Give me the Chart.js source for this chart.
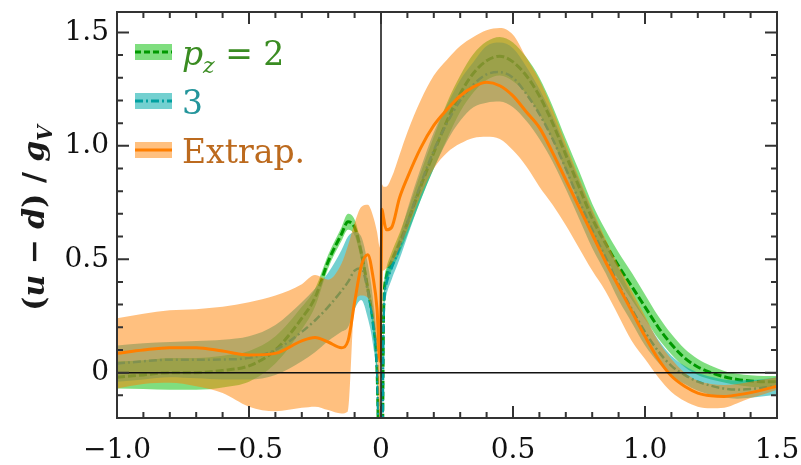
<!DOCTYPE html>
<html lang="en">
<head>
<meta charset="UTF-8">
<title>(u-d)/gV</title>
<script src="https://cdn.jsdelivr.net/npm/chart.js"></script>
<style>
  html, body { margin: 0; padding: 0; background: #fff; }
</style>
</head>
<body>
<canvas id="pdfChart" width="801" height="465"></canvas>
<script>
// x grid (x = 0 itself is left out, the curves jump there)
const xs = [-1.0, -0.9, -0.8, -0.7, -0.6, -0.5, -0.4, -0.3, -0.25, -0.2, -0.15, -0.125, -0.1, -0.075, -0.05, -0.03, -0.015, -0.004,
            0.004, 0.01, 0.02, 0.04, 0.07, 0.1, 0.15, 0.2, 0.25, 0.3, 0.35, 0.4, 0.45, 0.5, 0.55, 0.6, 0.65, 0.7, 0.75, 0.8,
            0.85, 0.9, 0.95, 1.0, 1.05, 1.1, 1.15, 1.2, 1.25, 1.3, 1.35, 1.4, 1.45, 1.5];

// p_z = 2
const p2Mid = [-0.02, -0.01, 0.0, 0.0, 0.01, 0.03, 0.1, 0.24, 0.33, 0.49, 0.61, 0.665, 0.64, 0.53, 0.37, 0.22, 0.01, -0.5,
               -0.5, 0.28, 0.42, 0.49, 0.57, 0.66, 0.82, 0.97, 1.11, 1.23, 1.32, 1.375, 1.395, 1.37, 1.31, 1.22, 1.1, 0.96, 0.82, 0.68,
               0.57, 0.47, 0.38, 0.29, 0.2, 0.125, 0.065, 0.025, 0.0, -0.018, -0.03, -0.037, -0.04, -0.04];
const p2Hi = [0.05, 0.055, 0.065, 0.065, 0.075, 0.095, 0.16, 0.29, 0.37, 0.52, 0.64, 0.70, 0.675, 0.565, 0.405, 0.255, 0.045, -0.465,
              -0.46, 0.32, 0.46, 0.53, 0.615, 0.71, 0.88, 1.04, 1.19, 1.31, 1.405, 1.46, 1.48, 1.455, 1.39, 1.30, 1.175, 1.03, 0.89, 0.745,
              0.63, 0.53, 0.44, 0.345, 0.25, 0.17, 0.105, 0.06, 0.03, 0.007, -0.005, -0.012, -0.015, -0.015];
const p2Lo = [-0.07, -0.072, -0.075, -0.075, -0.065, -0.04, 0.04, 0.19, 0.29, 0.46, 0.58, 0.63, 0.605, 0.495, 0.335, 0.185, -0.025, -0.535,
              -0.54, 0.24, 0.38, 0.45, 0.525, 0.61, 0.76, 0.90, 1.03, 1.15, 1.235, 1.29, 1.31, 1.285, 1.23, 1.14, 1.025, 0.89, 0.75, 0.615,
              0.51, 0.41, 0.32, 0.235, 0.15, 0.08, 0.025, -0.01, -0.03, -0.043, -0.055, -0.062, -0.065, -0.065];

// p_z = 3
const p3Mid = [0.04, 0.05, 0.057, 0.057, 0.058, 0.065, 0.1, 0.18, 0.23, 0.29, 0.36, 0.4, 0.45, 0.46, 0.36, 0.22, 0.02, -0.5,
               -0.5, 0.25, 0.39, 0.46, 0.55, 0.66, 0.83, 0.98, 1.1, 1.2, 1.27, 1.315, 1.325, 1.3, 1.23, 1.14, 1.03, 0.9, 0.76, 0.63,
               0.51, 0.39, 0.28, 0.18, 0.095, 0.03, -0.01, -0.04, -0.058, -0.07, -0.075, -0.072, -0.066, -0.058];
const p3Hi = [0.12, 0.13, 0.135, 0.14, 0.145, 0.16, 0.21, 0.31, 0.37, 0.44, 0.54, 0.6, 0.62, 0.6, 0.48, 0.32, 0.1, -0.45,
              -0.4, 0.3, 0.44, 0.51, 0.6, 0.72, 0.9, 1.06, 1.18, 1.29, 1.37, 1.44, 1.455, 1.43, 1.35, 1.25, 1.13, 0.99, 0.85, 0.71,
              0.58, 0.46, 0.34, 0.24, 0.145, 0.075, 0.03, 0.0, -0.018, -0.03, -0.035, -0.033, -0.028, -0.02];
const p3Lo = [-0.04, -0.03, -0.02, -0.025, -0.03, -0.03, -0.01, 0.05, 0.09, 0.14, 0.18, 0.2, 0.28, 0.32, 0.24, 0.12, -0.06, -0.55,
              -0.6, 0.2, 0.34, 0.41, 0.5, 0.6, 0.76, 0.9, 1.02, 1.11, 1.17, 1.19, 1.195, 1.17, 1.11, 1.03, 0.93, 0.81, 0.68, 0.55,
              0.44, 0.32, 0.22, 0.12, 0.045, -0.015, -0.05, -0.08, -0.098, -0.11, -0.115, -0.111, -0.104, -0.096];

// extrapolated
const exMid = [0.085, 0.10, 0.11, 0.11, 0.095, 0.078, 0.085, 0.14, 0.155, 0.135, 0.11, 0.14, 0.31, 0.47, 0.52, 0.42, 0.28, 0.05,
               0.72, 0.68, 0.63, 0.64, 0.77, 0.86, 0.99, 1.09, 1.16, 1.22, 1.26, 1.28, 1.265, 1.22, 1.15, 1.08, 0.97, 0.85, 0.73, 0.61,
               0.49, 0.38, 0.27, 0.16, 0.06, -0.015, -0.06, -0.09, -0.102, -0.105, -0.098, -0.088, -0.075, -0.06];
const exHi = [0.24, 0.26, 0.275, 0.28, 0.29, 0.31, 0.34, 0.39, 0.43, 0.41, 0.48, 0.56, 0.66, 0.73, 0.74, 0.69, 0.62, 0.55,
              0.83, 0.82, 0.82, 0.86, 0.96, 1.06, 1.2, 1.31, 1.38, 1.44, 1.48, 1.51, 1.52, 1.49, 1.39, 1.29, 1.16, 1.01, 0.86, 0.72,
              0.59, 0.47, 0.36, 0.25, 0.14, 0.06, 0.0, -0.035, -0.05, -0.055, -0.05, -0.04, -0.03, -0.02];
const exLo = [-0.07, -0.05, -0.045, -0.06, -0.09, -0.15, -0.17, -0.155, -0.15, -0.165, -0.18, -0.17, 0.3, 0.34, 0.33, 0.25, 0.08, -0.25,
              0.45, 0.45, 0.46, 0.48, 0.55, 0.63, 0.78, 0.9, 0.97, 1.01, 1.035, 1.04, 1.03, 0.98, 0.91, 0.82, 0.74, 0.65, 0.55, 0.45,
              0.36, 0.25, 0.14, 0.06, -0.02, -0.085, -0.125, -0.15, -0.157, -0.155, -0.135, -0.112, -0.095, -0.075];

const xMajor = [-1.0, -0.5, 0, 0.5, 1.0, 1.5];
const yMajor = [0, 0.5, 1.0, 1.5];

const serif = 'DejaVu Serif';

// colours
const green = { band: 'rgba(0,190,0,0.5)', line: '#009900', text: '#3a8c22' };
const teal = { band: 'rgba(0,170,170,0.55)', line: '#00a0a0', text: '#23959b' };
const orange = { band: 'rgba(255,130,0,0.5)', line: '#ff7f00', text: '#bc6a1e' };

function pts(arr) {
    return xs.map((x, i) => ({ x: x, y: arr[i] }));
}

function bandSets(lo, hi, color, order) {
    const common = { pointRadius: 0, borderWidth: 0, borderColor: 'transparent', cubicInterpolationMode: 'monotone', order: order };
    return [
        Object.assign({ data: pts(lo), fill: false }, common),
        Object.assign({ data: pts(hi), fill: '-1', backgroundColor: color }, common)
    ];
}

function lineSet(arr, color, width, dash, order) {
    return { data: pts(arr), borderColor: color, borderWidth: width, borderDash: dash, pointRadius: 0,
             fill: false, cubicInterpolationMode: 'monotone', order: order };
}

// lower order = drawn on top
const datasets = [
    ...bandSets(p2Lo, p2Hi, green.band, 6),
    lineSet(p2Mid, green.line, 3, [8, 3], 5),
    ...bandSets(p3Lo, p3Hi, teal.band, 4),
    lineSet(p3Mid, teal.line, 2.5, [8, 3, 2, 3], 3),
    ...bandSets(exLo, exHi, orange.band, 2),
    lineSet(exMid, orange.line, 3, [], 1)
];

function fmt(v) {
    if (Math.abs(v) < 1e-9) return '0';
    return (v < 0 ? '\u2212' : '') + Math.abs(v).toFixed(1);
}

// legend rows: [text, style] pieces
const legendRows = [
    { c: green, dash: [6, 3], parts: [['p', 'italic'], ['z', 'sub'], [' = 2', 'normal']] },
    { c: teal, dash: [8, 3, 2, 3], parts: [['3', 'normal']] },
    { c: orange, dash: [], parts: [['Extrap.', 'normal']] }
];
const yTitle = [['(', 'normal'], ['u', 'italic'], [' \u2212 ', 'normal'], ['d', 'italic'], [') / ', 'normal'], ['g', 'italic'], ['V', 'sub']];

function fontFor(style, size, weight) {
    const w = weight ? weight + ' ' : '';
    if (style === 'italic') return 'italic ' + w + size + 'px "' + serif + '"';
    if (style === 'sub') return 'italic ' + w + Math.round(size * 0.68) + 'px "' + serif + '"';
    return w + size + 'px "' + serif + '"';
}

function drawParts(ctx, parts, x, y, size, color, weight) {
    ctx.fillStyle = color;
    ctx.textBaseline = 'alphabetic';
    ctx.textAlign = 'left';
    for (const [t, s] of parts) {
        ctx.font = fontFor(s, size, weight);
        ctx.fillText(t, x, s === 'sub' ? y + size * 0.25 : y);
        x += ctx.measureText(t).width;
    }
}

function partsWidth(ctx, parts, size, weight) {
    let w = 0;
    for (const [t, s] of parts) {
        ctx.font = fontFor(s, size, weight);
        w += ctx.measureText(t).width;
    }
    return w;
}

const decor = {
    id: 'decor',
    afterDatasetsDraw(chart) {
        const { ctx, chartArea: a, scales: { x, y } } = chart;
        ctx.save();
        // zero lines
        ctx.strokeStyle = '#111';
        ctx.lineWidth = 1.5;
        const x0 = x.getPixelForValue(0), y0 = y.getPixelForValue(0);
        ctx.beginPath();
        ctx.moveTo(x0, a.top); ctx.lineTo(x0, a.bottom);
        ctx.moveTo(a.left, y0); ctx.lineTo(a.right, y0);
        ctx.stroke();
        // frame
        ctx.strokeStyle = '#333';
        ctx.lineWidth = 2;
        ctx.strokeRect(a.left, a.top, a.right - a.left, a.bottom - a.top);
        // inward ticks, minor every 0.1, major every 0.5
        ctx.beginPath();
        for (let k = Math.ceil(x.min * 10 - 1e-6); k <= Math.floor(x.max * 10 + 1e-6); k++) {
            const px = x.getPixelForValue(k / 10);
            const len = k % 5 === 0 ? 12 : 6;
            ctx.moveTo(px, a.bottom); ctx.lineTo(px, a.bottom - len);
            ctx.moveTo(px, a.top); ctx.lineTo(px, a.top + len);
        }
        for (let k = Math.ceil(y.min * 10 - 1e-6); k <= Math.floor(y.max * 10 + 1e-6); k++) {
            const py = y.getPixelForValue(k / 10);
            const len = k % 5 === 0 ? 12 : 6;
            ctx.moveTo(a.left, py); ctx.lineTo(a.left + len, py);
            ctx.moveTo(a.right, py); ctx.lineTo(a.right - len, py);
        }
        ctx.stroke();
        ctx.restore();
    },
    afterDraw(chart) {
        const ctx = chart.ctx;
        ctx.save();
        // legend
        legendRows.forEach((row, i) => {
            const base = 65 + i * 49;
            const cy = base - 13;
            ctx.fillStyle = row.c.band;
            ctx.fillRect(135, cy - 8, 37, 16);
            ctx.strokeStyle = row.c.line;
            ctx.lineWidth = 3;
            ctx.setLineDash(row.dash);
            ctx.beginPath();
            ctx.moveTo(135, cy); ctx.lineTo(172, cy);
            ctx.stroke();
            ctx.setLineDash([]);
            drawParts(ctx, row.parts, 182, base, 33, row.c.text);
        });
        // y axis title, rotated
        const size = 30;
        const w = partsWidth(ctx, yTitle, size, 'bold');
        ctx.translate(44, 218);
        ctx.rotate(-Math.PI / 2);
        drawParts(ctx, yTitle, -w / 2, 0, size, '#1a1a1a', 'bold');
        ctx.restore();
    }
};

new Chart(document.getElementById('pdfChart').getContext('2d'), {
    type: 'line',
    data: { datasets: datasets },
    options: {
        responsive: false,
        animation: false,
        devicePixelRatio: 1,
        layout: { padding: { top: 12, right: 24, left: 0, bottom: 0 } },
        plugins: { legend: { display: false }, tooltip: { enabled: false } },
        scales: {
            x: {
                type: 'linear', min: -1, max: 1.5,
                grid: { display: false, drawTicks: false },
                border: { display: false },
                afterBuildTicks: s => { s.ticks = xMajor.map(v => ({ value: v })); },
                afterFit: s => { s.height = 47; s.paddingLeft = 0; s.paddingRight = 0; },
                ticks: { autoSkip: false, maxRotation: 0, padding: 16, color: '#111',
                         font: { family: serif, size: 28 }, callback: v => fmt(v) }
            },
            y: {
                type: 'linear', min: -0.2, max: 1.59,
                grid: { display: false, drawTicks: false },
                border: { display: false },
                afterBuildTicks: s => { s.ticks = yMajor.map(v => ({ value: v })); },
                afterFit: s => { s.width = 117; s.paddingTop = 0; s.paddingBottom = 0; },
                ticks: { autoSkip: false, padding: 8, color: '#111',
                         font: { family: serif, size: 28 }, callback: v => fmt(v) }
            }
        }
    },
    plugins: [decor]
});
</script>
</body>
</html>
